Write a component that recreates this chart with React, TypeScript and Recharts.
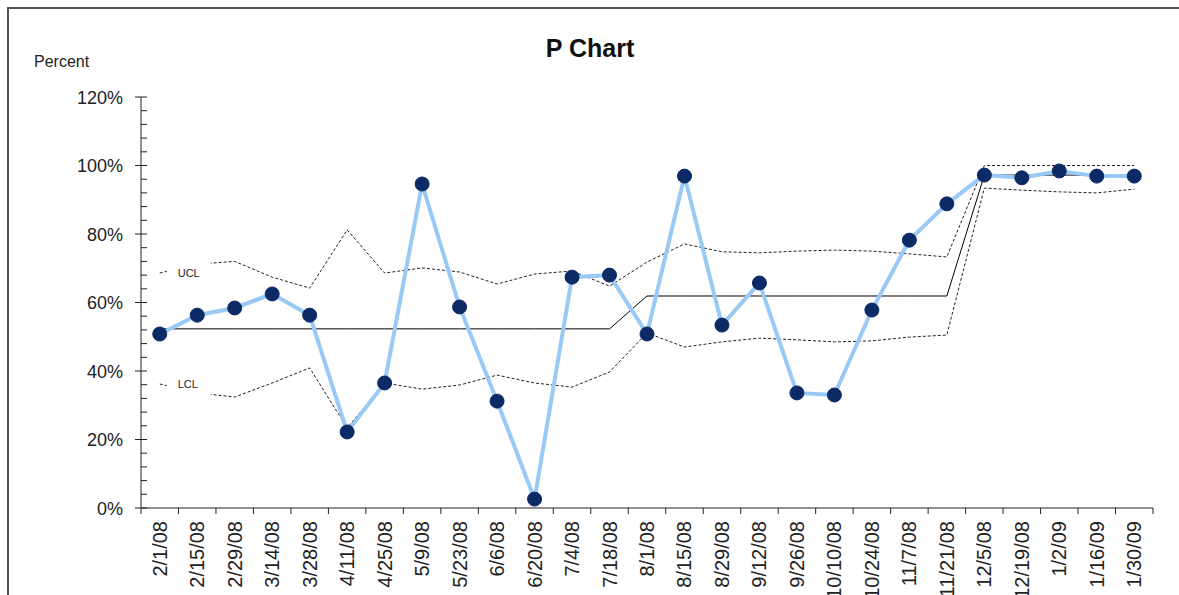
import { LineChart, Line, XAxis, YAxis, LabelList } from 'recharts';

const categories = [
  '2/1/08', '2/15/08', '2/29/08', '3/14/08', '3/28/08', '4/11/08', '4/25/08', '5/9/08', '5/23/08',
  '6/6/08', '6/20/08', '7/4/08', '7/18/08', '8/1/08', '8/15/08', '8/29/08', '9/12/08', '9/26/08',
  '10/10/08', '10/24/08', '11/7/08', '11/21/08', '12/5/08', '12/19/08', '1/2/09', '1/16/09', '1/30/09',
];

const pValues = [
  0.508, 0.563, 0.584, 0.625, 0.563, 0.222, 0.365, 0.946, 0.587,
  0.312, 0.026, 0.674, 0.68, 0.508, 0.969, 0.534, 0.657, 0.336,
  0.33, 0.578, 0.782, 0.888, 0.972, 0.964, 0.984, 0.969, 0.969,
];

const centerLine = [
  0.523, 0.523, 0.523, 0.523, 0.523, 0.523, 0.523, 0.523, 0.523,
  0.523, 0.523, 0.523, 0.523, 0.619, 0.619, 0.619, 0.619, 0.619,
  0.619, 0.619, 0.619, 0.619, 0.972, 0.972, 0.972, 0.972, 0.972,
];

const ucl = [
  0.686, 0.712, 0.72, 0.674, 0.642, 0.812, 0.686, 0.701, 0.689,
  0.654, 0.683, 0.692, 0.648, 0.718, 0.771, 0.748, 0.745, 0.75,
  0.753, 0.75, 0.742, 0.733, 1.0, 1.0, 1.0, 1.0, 1.0,
];

const lcl = [
  0.362, 0.336, 0.324, 0.365, 0.409, 0.234, 0.365, 0.347, 0.359,
  0.388, 0.365, 0.353, 0.397, 0.511, 0.47, 0.485, 0.496, 0.491,
  0.485, 0.488, 0.499, 0.505, 0.934, 0.928, 0.923, 0.92, 0.931,
];

const majorTicks = [0, 0.2, 0.4, 0.6, 0.8, 1.0, 1.2];
const allTicks = [
  0, 0.04, 0.08, 0.12, 0.16, 0.2, 0.24, 0.28, 0.32, 0.36, 0.4, 0.44, 0.48, 0.52, 0.56, 0.6,
  0.64, 0.68, 0.72, 0.76, 0.8, 0.84, 0.88, 0.92, 0.96, 1.0, 1.04, 1.08, 1.12, 1.16, 1.2,
];

const data = categories.map((date, i) => ({
  date,
  p: pValues[i],
  cl: centerLine[i],
  ucl: ucl[i],
  lcl: lcl[i],
}));

const W = 1179;
const H = 595;
const PLOT_LEFT = 141;
const PLOT_RIGHT = 1153;
const HALF_BAND = (PLOT_RIGHT - PLOT_LEFT) / categories.length / 2;
const FONT = '"Liberation Sans", Arial, sans-serif';
const INK = '#222';

function YTick(props: any) {
  const { x, y, payload } = props;
  const v = payload.value;
  const major = majorTicks.some(m => Math.abs(m - v) < 1e-6);
  if (!major) {
    return <line x1={x} x2={x + 6} y1={y} y2={y} stroke={INK} strokeWidth={1} />;
  }
  return (
    <g>
      <line x1={x - 6} x2={x + 6} y1={y} y2={y} stroke={INK} strokeWidth={1} />
      <text x={x - 18} y={y + 6.5} textAnchor="end" fontSize={18} fontFamily={FONT} fill={INK}>
        {`${Math.round(v * 100)}%`}
      </text>
    </g>
  );
}

function XTick(props: any) {
  const { x, y, payload, index } = props;
  return (
    <g>
      <line x1={x - HALF_BAND} x2={x - HALF_BAND} y1={y} y2={y + 6} stroke={INK} strokeWidth={1} />
      {index === categories.length - 1 && (
        <line x1={x + HALF_BAND} x2={x + HALF_BAND} y1={y} y2={y + 6} stroke={INK} strokeWidth={1} />
      )}
      <text
        x={x + 7}
        y={y + 13}
        transform={`rotate(-90 ${x + 7} ${y + 13})`}
        textAnchor="end"
        fontSize={20}
        fontFamily={FONT}
        fill={INK}
      >
        {payload.value}
      </text>
    </g>
  );
}

function limitLabel(name: string) {
  return (props: any) => {
    const { x, y, index } = props;
    if (index !== 0) return null;
    return (
      <g>
        <rect x={x + 7} y={y - 16} width={44} height={32} fill="#fff" />
        <text x={x + 18} y={y + 4} fontSize={11} fontFamily={FONT} fill={INK}>
          {name}
        </text>
      </g>
    );
  };
}

export default function App() {
  return (
    <div style={{ position: 'absolute', left: 0, top: 0, width: W, height: H, background: '#fff' }}>
      <LineChart
        width={W}
        height={H}
        data={data}
        margin={{ top: 97, right: W - PLOT_RIGHT, bottom: 7, left: PLOT_LEFT - 60 }}
      >
        <XAxis
          dataKey="date"
          interval={0}
          height={80}
          padding={{ left: HALF_BAND, right: HALF_BAND }}
          tickLine={false}
          tickSize={0}
          tickMargin={0}
          axisLine={{ stroke: INK, strokeWidth: 1 }}
          tick={<XTick />}
        />
        <YAxis
          type="number"
          width={60}
          domain={[0, 1.2]}
          ticks={allTicks}
          interval={0}
          tickLine={false}
          tickSize={0}
          tickMargin={0}
          axisLine={{ stroke: INK, strokeWidth: 1 }}
          tick={<YTick />}
        />
        <Line
          dataKey="ucl"
          stroke={INK}
          strokeWidth={1}
          strokeDasharray="3 2"
          dot={false}
          activeDot={false}
          isAnimationActive={false}
        >
          <LabelList dataKey="ucl" content={limitLabel('UCL')} />
        </Line>
        <Line
          dataKey="lcl"
          stroke={INK}
          strokeWidth={1}
          strokeDasharray="3 2"
          dot={false}
          activeDot={false}
          isAnimationActive={false}
        >
          <LabelList dataKey="lcl" content={limitLabel('LCL')} />
        </Line>
        <Line
          dataKey="cl"
          stroke="#000"
          strokeWidth={1}
          dot={false}
          activeDot={false}
          isAnimationActive={false}
        />
        <Line
          dataKey="p"
          stroke="#99c9f5"
          strokeWidth={4}
          dot={{ r: 7, fill: '#0b2a66', stroke: '#0b2a66', strokeWidth: 1 }}
          activeDot={false}
          isAnimationActive={false}
        />
      </LineChart>
      <svg
        width={W}
        height={H}
        style={{ position: 'absolute', left: 0, top: 0, pointerEvents: 'none' }}
      >
        <line x1={7} x2={W} y1={8} y2={8} stroke="#555" strokeWidth={2} />
        <line x1={8} x2={8} y1={7} y2={H} stroke="#555" strokeWidth={2} />
        <text x={590} y={57} textAnchor="middle" fontSize={25} fontWeight="bold" fontFamily={FONT} fill="#111">
          P Chart
        </text>
        <text x={34} y={67} fontSize={16} fontFamily={FONT} fill={INK}>
          Percent
        </text>
      </svg>
    </div>
  );
}
